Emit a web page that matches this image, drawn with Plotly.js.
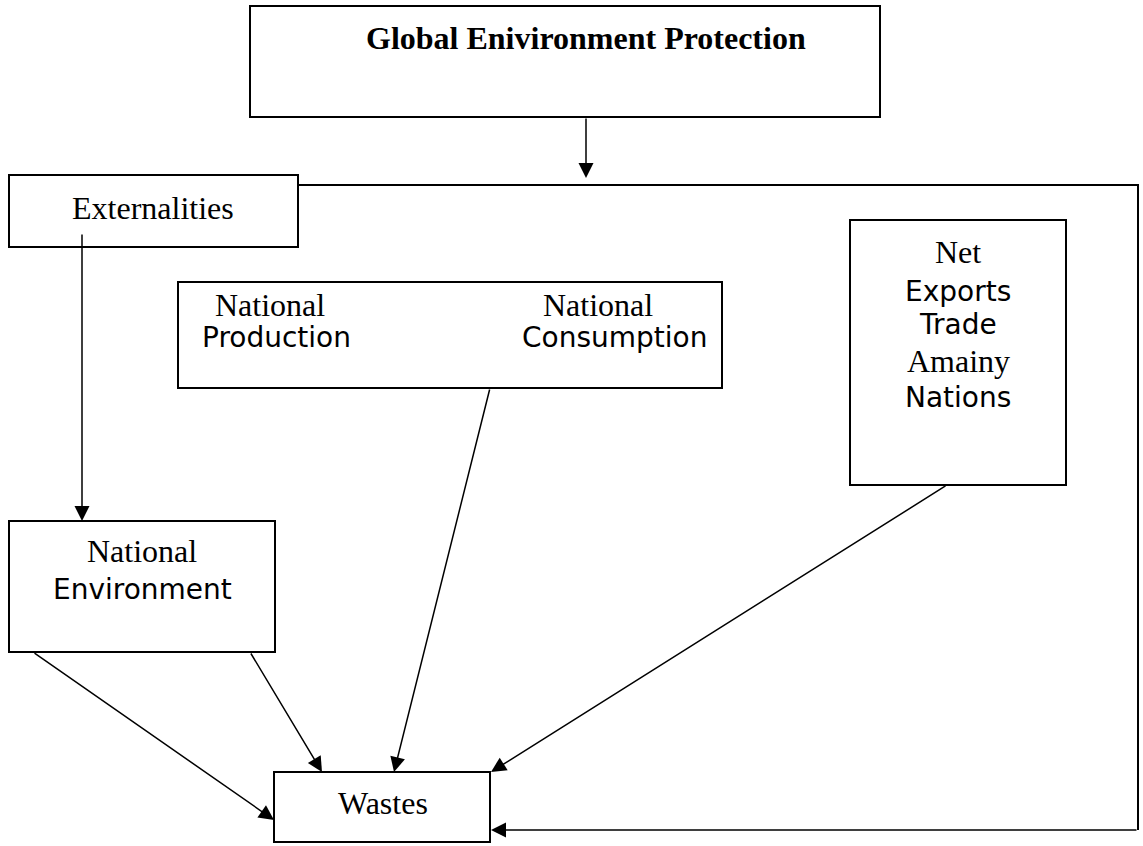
<!DOCTYPE html>
<html>
<head>
<meta charset="utf-8">
<script src="https://cdn.plot.ly/plotly-3.0.1.min.js"></script>
<style>html,body{margin:0;padding:0;background:#fff;}#chart{width:1143px;height:846px;}</style>
</head>
<body>
<div id="chart"></div>
<script>
// ---- content ----
const titleLabel = 'Global Enivironment Protection';
const externalitiesLabel = 'Externalities';
const productionLabel = ['National', 'Production'];
const consumptionLabel = ['National', 'Consumption'];
const tradeLabel = ['Net', 'Exports', 'Trade', 'Amainy', 'Nations'];
const environmentLabel = ['National', 'Environment'];
const wastesLabel = 'Wastes';

// ---- geometry (page pixels) ----
const SERIF = 'Liberation Serif, Times New Roman, serif';
const SANS = 'DejaVu Sans, sans-serif';
const boxes = {
  global: [250, 6, 880, 117],
  ext: [9, 175, 298, 247],
  natl: [178, 282, 722, 388],
  trade: [850, 220, 1066, 485],
  env: [9, 521, 275, 652],
  wastes: [274, 772, 490, 842]
};

const shapes = [];
Object.values(boxes).forEach(b => {
  shapes.push({type: 'rect', xref: 'x', yref: 'y', x0: b[0], y0: b[1], x1: b[2], y1: b[3],
    line: {color: '#000', width: 2}, fillcolor: 'rgba(0,0,0,0)'});
});
// feedback loop from Externalities around the right side
shapes.push({type: 'path', xref: 'x', yref: 'y', path: 'M298,185 H1138 V830',
  line: {color: '#000', width: 2}});

const annotations = [];
function txt(t, x, y, fam, size, bold) {
  annotations.push({text: bold ? '<b>' + t + '</b>' : t, x: x, y: y, xref: 'x', yref: 'y',
    showarrow: false, xanchor: 'center', yanchor: 'middle',
    font: {family: fam, size: size, color: '#000'}});
}
function arrow(tx, ty, hx, hy) {
  annotations.push({text: '', x: hx, y: hy, ax: tx, ay: ty, xref: 'x', yref: 'y', axref: 'x', ayref: 'y',
    showarrow: true, arrowhead: 2, arrowsize: 2, arrowwidth: 1.5, arrowcolor: '#000', standoff: 0, startstandoff: 0});
}

txt(titleLabel, 586, 38, SERIF, 32, true);
txt(externalitiesLabel, 153, 208, SERIF, 32);
txt(productionLabel[0], 270, 305, SERIF, 32);
txt(productionLabel[1], 276, 337, SANS, 28);
txt(consumptionLabel[0], 598, 305, SERIF, 32);
txt(consumptionLabel[1], 614, 337, SANS, 28);
const tradeY = [252, 291, 324, 361, 397];
const tradeFont = [SERIF, SANS, SANS, SERIF, SANS];
tradeLabel.forEach((t, i) => txt(t, 958, tradeY[i], tradeFont[i], tradeFont[i] === SERIF ? 32 : 28));
txt(environmentLabel[0], 142, 551, SERIF, 32);
txt(environmentLabel[1], 142, 589, SANS, 28);
txt(wastesLabel, 383, 803, SERIF, 32);

arrow(586, 117, 586, 178);
arrow(82, 233, 82, 521);
arrow(490, 388, 394, 772);
arrow(947, 485, 491, 772);
arrow(250, 652, 322, 772);
arrow(33, 652, 274, 820);
arrow(1138, 830, 491, 830);

const layout = {
  width: 1143, height: 846,
  margin: {l: 0, r: 0, t: 0, b: 0},
  paper_bgcolor: '#fff', plot_bgcolor: '#fff',
  xaxis: {range: [0, 1143], visible: false, fixedrange: true},
  yaxis: {range: [846, 0], visible: false, fixedrange: true},
  shapes: shapes,
  annotations: annotations,
  showlegend: false
};
Plotly.newPlot('chart', [{x: [], y: [], type: 'scatter'}], layout, {staticPlot: true, displayModeBar: false});
</script>
</body>
</html>
